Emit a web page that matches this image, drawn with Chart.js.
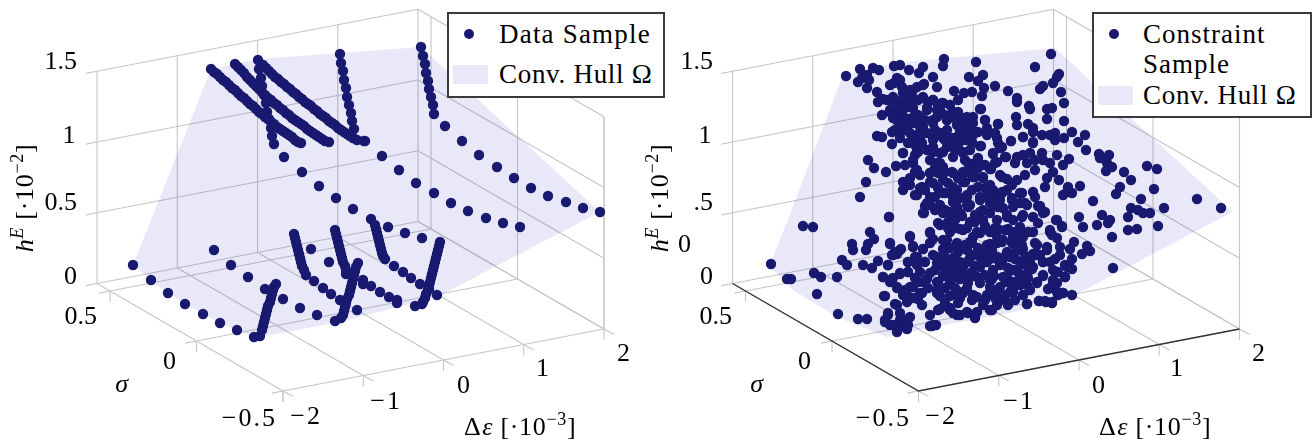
<!DOCTYPE html>
<html><head><meta charset="utf-8">
<script src="https://cdn.jsdelivr.net/npm/chart.js@4"></script>
<style>
html,body{margin:0;padding:0;background:#fff}
#stage{position:relative;width:1314px;height:444px;overflow:hidden;font-family:"Liberation Serif",serif;color:#000}
canvas{position:absolute;top:0}
.t{position:absolute;white-space:nowrap;line-height:1;font-size:26px}
.i{font-style:italic}
.s{font-size:18px;position:relative;top:-10px}
.box{position:absolute;background:#fff;border:2px solid #3a3a3a;box-sizing:border-box}
.lt{position:absolute;white-space:nowrap;line-height:1;font-size:27px;letter-spacing:1px}
.dot{position:absolute;width:10px;height:10px;border-radius:50%;background:#191970}
.sw{position:absolute;background:#e8e8f9}
</style></head><body>
<div id="stage">
<canvas id="left" width="657" height="444" style="left:0;width:657px;height:444px"></canvas>
<canvas id="right" width="657" height="444" style="left:657px;width:657px;height:444px"></canvas>
</div>
<script>
// Axis ticks
const deltaEpsTicks=[-2,-1,0,1,2];
const sigmaTicks=[0.5,0,-0.5];
const heTicks=[0,0.5,1,1.5];
const heTickLabelsLeft=["0","0.5","1","1.5"];
const heTickLabelsRight=["0",".5","1","1.5"];
const seriesNames=["Data Sample","Conv. Hull Ω"];
const seriesNamesRight=["Constraint","Sample","Conv. Hull Ω"];

// Samples, in view coordinates of the projected plot
const dataSample=[
[133,265],[151,280],[168,293],[185,304],[203,314],[220,323],[237,330],[254,337],
[260,336],[262,330],[263,326],[264,322],[265,318],[266,314],[267,310],[268,306],[270,302],[271,298],[272,294],[273,290],[274,287],[276,284],
[214,250],[231,265],[248,277],[265,289],[283,299],[300,308],[317,315],
[294,234],[295,238],[296,242],[297,246],[298,250],[299,254],[300,258],[301,262],[302,266],[304,270],[306,275],
[314,281],[323,288],[331,294],[340,300],[311,249],[329,262],[346,274],
[358,263],[356,267],[355,271],[354,275],[353,279],[352,283],[351,287],[350,291],[349,295],[347,299],[346,303],[345,307],[344,311],[343,315],[341,318],[335,321],[357,310],
[335,230],[336,234],[337,238],[338,242],[339,246],[340,250],[341,254],[342,258],[343,262],[345,266],[346,270],
[371,219],[375,225],[376,229],[377,233],[378,237],[379,241],[380,245],[381,249],[382,253],[383,256],[385,259],
[363,280],[363,284],[371,286],[380,292],[389,297],[397,300],[397,303],
[388,227],[405,233],[422,238],[394,266],[403,272],[411,278],[420,284],[429,289],[437,295],
[440,242],[439,246],[438,250],[437,254],[436,258],[435,262],[434,266],[433,270],[432,274],[431,278],[430,282],[429,286],[428,290],[426,294],[425,298],[423,302],[422,304],[415,306],
[340,54],[341,63],[343,71],[344,80],[346,88],[347,97],[349,105],[351,113],[352,121],[354,129],
[421,47],[423,56],[425,64],[426,73],[428,81],[429,89],[431,97],[433,105],[434,114],
[445,126],[462,141],[479,155],[497,167],[514,178],[531,188],[548,196],[566,202],[583,208],[600,212],
[364,141],[382,156],[399,170],[416,183],[434,193],[451,203],[468,211],[486,218],[503,223],[520,227],
[284,157],[302,172],[319,186],[336,198],[353,209],
[211,69],[214,72],[217,74],[220,77],[223,80],[226,82],[229,85],[232,88],[235,90],[238,93],[241,96],[244,98],[247,101],[250,104],[253,106],[256,109],[259,112],[262,114],[265,117],[268,119],[271,122],[274,124],[277,127],[280,129],[283,131],[286,133],[289,135],[292,137],[295,140],[298,142],[301,143],
[235,64],[238,67],[241,70],[244,73],[247,77],[250,80],[253,83],[256,86],[259,89],[262,92],[265,95],[268,98],[271,100],[274,103],[277,105],[280,108],[283,110],[286,113],[289,115],[292,118],[295,120],[298,122],[301,124],[304,126],[307,129],[310,131],[313,133],[316,135],[319,137],[322,139],[325,141],[329,142],
[263,65],[266,68],[269,71],[272,74],[275,77],[278,79],[281,82],[284,84],[287,87],[290,89],[293,92],[296,94],[299,97],[302,99],[305,102],[308,104],[311,106],[314,109],[317,111],[320,114],[323,116],[326,118],[329,121],[332,123],[335,125],[338,128],[341,130],[344,132],[347,134],[350,136],[353,138],[357,140],[365,141],
[258,60],[259,69],[261,78],[262,86],[264,95],[266,103],[267,112],[269,119],[271,128],[272,136],[274,144]
];
const dataHull=[[211,69],[258,59],[421,47],[600,212],[437,297],[340,322],[260,337],[254,337],[237,330],[220,323],[203,314],[185,304],[168,293],[151,280],[133,265],[211,69]];

const constraintSample=[
[846,76],[860,69],[858,82],[862,78],[867,75],[867,88],[873,68],[879,70],[877,92],[869,80],[894,66],[900,65],[909,70],[919,73],[923,67],[944,59],[943,66],[976,62],[969,77],[983,75],[978,81],[984,88],[995,86],[982,96],[972,92],[964,93],[958,100],[954,91],[937,87],[933,77],[924,84],[897,78],[890,85],[900,80],[894,83],[902,87],[910,90],[917,87],[907,93],[913,98],[923,97],[878,102],[883,99],[890,100],[903,100],[933,100],[943,103],[882,115],[890,112],[897,107],[903,110],[910,107],[918,115],[927,108],[937,110],[953,112],[963,118],[973,117],[981,109],[985,120],[998,124],[897,120],[905,118],[913,123],[923,127],[933,123],[947,120],[957,125],[970,123],[987,128],[978,132],[877,136],[882,137],[892,144],[892,132],[900,133],[910,133],[920,137],[933,137],[943,138],[957,137],[968,133],[975,132],[987,135],[995,133],[914,144],[922,143],[933,152],[947,147],[957,147],[972,142],[981,146],[998,143],[903,153],[915,155],[927,150],[940,153],[953,157],[963,152],[978,158],[993,153],[868,160],[874,168],[886,172],[896,166],[913,163],[937,163],[965,160],[972,164],[978,166],[995,163],[915,172],[930,173],[943,167],[953,173],[967,172],[983,177],[991,169],[903,182],[903,190],[866,182],[860,197],[889,217],[920,188],[915,195],[930,182],[943,180],[953,187],[965,182],[975,177],[985,188],[995,197],[927,203],[924,213],[935,197],[945,193],[953,197],[967,197],[980,197],[990,203],[945,210],[957,207],[970,205],[983,210],[998,207],
[1051,54],[1035,67],[1059,74],[1057,77],[1053,83],[1043,86],[1040,89],[1008,91],[1017,98],[1017,102],[1061,92],[1064,103],[1029,106],[1030,109],[1047,109],[1052,108],[1016,117],[1047,119],[1064,121],[1017,125],[1028,124],[1033,128],[1033,132],[1042,135],[1050,135],[1055,133],[1055,140],[1064,138],[1072,132],[1085,135],[1078,142],[1086,150],[1023,137],[1011,141],[1002,147],[1033,143],[1006,157],[1017,157],[1023,155],[1030,153],[1042,153],[1035,160],[1027,163],[1015,163],[1043,160],[1057,155],[1050,163],[1063,165],[1069,159],[1099,154],[1109,155],[1100,158],[1107,163],[1112,167],[1106,171],[1124,172],[1131,180],[1147,166],[1157,169],[1053,172],[1025,175],[1035,170],[1059,180],[1047,178],[1045,187],[1068,187],[1080,186],[1067,192],[1063,195],[1072,193],[1120,187],[1116,194],[1154,189],[1197,199],[1221,208],[1093,201],[1141,199],[1164,208],[1131,208],[1138,210],[1143,213],[1150,213],[1128,217],[1079,217],[1056,220],[1102,215],[1110,220],[1033,192],[1035,197],[1020,193],[1012,200],[1007,190],[1020,203],[1040,207],[1043,213],[1025,203],[1002,192],[1007,217],[1022,217],[1033,217],[1002,177],[1012,185],
[1113,268],[1112,237],[1083,227],[1097,225],[1108,223],[1128,230],[1137,229],[1158,226],[1050,232],[1062,227],[1057,238],[1082,254],[1090,251],[1087,246],[1074,242],[1070,249],[1072,259],[1065,265],[1072,269],[1058,272],[1065,277],[1053,282],[1048,289],[1072,295],[1063,293],[1058,295],[1052,302],[1045,301],[1039,301],[1027,304],[1008,304],[1023,295],[1037,282],[1043,275],[1032,269],[1043,262],[1055,259],[1037,245],[1047,247],[1060,247],[1033,254],[1023,264],[1015,259],[1018,242],[1033,232],[1008,229],[1020,230],[1015,270],[1007,277],[1020,277],[1027,285],[1010,292],[1005,300],[1000,294],[1002,262],[1007,252],[1002,242],[1013,237],[1023,249],[1017,285],[1030,260],
[771,264],[787,279],[791,279],[814,273],[821,277],[817,294],[803,226],[813,227],[870,232],[874,239],[868,244],[866,250],[852,244],[853,250],[842,260],[847,265],[863,265],[872,268],[878,261],[890,244],[888,265],[910,236],[901,249],[897,254],[893,255],[913,247],[915,257],[908,262],[923,249],[837,277],[885,296],[883,277],[892,279],[900,274],[908,272],[897,287],[890,282],[910,287],[903,295],[897,305],[907,302],[918,299],[922,293],[937,290],[940,309],[950,310],[957,315],[967,312],[975,317],[838,314],[858,319],[867,319],[885,320],[888,313],[890,325],[897,332],[907,329],[900,320],[908,319],[932,326],[936,325],[945,304],[927,279],[937,282],[918,282],[917,265],[933,255],[933,239],[930,232],[940,225],[950,232],[960,229],[977,232],[990,232],[998,229],[943,249],[957,245],[970,242],[990,244],[997,259],[947,265],[960,262],[973,255],[990,259],[960,279],[977,277],[992,279],[960,292],[973,295],[990,294],[998,302],[992,310],[983,305],
[887,100],[893,97],[903,93],[913,90],[923,85],[900,103],[910,100],[923,98],[933,100],[942,103],[890,110],[900,112],[913,108],[927,110],[940,110],[953,112],[967,117],[980,109],[897,120],[908,120],[920,117],[933,120],[947,120],[960,123],[973,123],[985,120],[998,124],[895,130],[907,130],[920,127],[935,130],[947,130],[960,130],[973,135],[987,133],[997,138],[913,138],[933,140],[945,140],[960,138],[972,143],[980,146],[1000,148],[993,154],[1011,141],[1023,137],[1033,142],[903,153],[917,150],[930,150],[943,152],[955,150],[963,153],[978,159],[968,163],[997,162],[1005,157],[913,160],[930,160],[940,163],[917,170],[930,173],[938,173],[952,172],[963,172],[978,168],[990,169],[1000,175],[1007,179],[910,178],[922,187],[933,183],[948,183],[963,182],[973,177],[983,178],[993,190],[1002,193],[1017,180],[1022,193],[1012,198],[917,195],[930,197],[943,193],[957,190],[967,195],[978,187],[987,197],[997,205],[925,206],[940,205],[953,202],[967,205],[980,200],[1013,207],[1027,205],[1038,206],
[889,217],[910,237],[890,243],[913,246],[895,252],[900,250],[892,255],[888,265],[923,249],[900,273],[908,272],[883,277],[893,278],[897,288],[884,296],[895,304],[900,313],[910,317],[888,315],[885,322],[893,325],[900,327],[908,325],[930,326],[933,325],[938,310],[945,303],[950,308],[953,313],[960,315],[968,313],[975,318],[977,312],[990,310],[997,305],[1008,305],[1027,304],[1039,301],[1046,302],[1052,303],[1023,295],[1013,292],[1000,295],[987,295],[972,300],[960,298],[957,295],[937,293],[920,293],[913,298],[907,295],[905,290],[913,287],[923,282],[938,282],[930,273],[920,272],[908,262],[917,257],[937,263],[937,257],[945,250],[930,243],[930,233],[938,223],[948,228],[943,213],[923,213],[930,205],[955,220],[960,213],[968,207],[980,212],[995,205],[1007,215],[1023,215],[1040,206],[1045,212],[1038,223],[1028,232],[1057,220],[1062,226],[1050,230],[1052,235],[1035,243],[1043,276],[1057,283],[1053,280],[1050,288],[1065,277],[1063,293],[1057,292],[1037,283],[1028,278],[1020,277],[1013,282],[1067,267],[1053,270],[1043,262],[1037,255],[1047,250],[1060,255],[1050,262],[1030,257],[1020,250],[1013,240],[1023,237],[1007,230],[997,237],[987,245],[973,237],[963,230],[980,233],[957,243],[943,240],[967,250],[953,258],[963,267],[943,267],[980,257],[997,257],[1010,257],[993,270],[980,267],[970,277],[957,272],[950,282],[967,288],[980,283],[990,280],[1003,277],[1000,287],[1013,270],[977,297],[963,293],[983,220],[997,220],[970,222],[950,213],[1013,220],[1020,227],[1033,267],[1040,255],
[948,222],[955,228],[967,228],[975,222],[985,226],[995,228],[1005,230],[1015,232],[947,240],[950,248],[965,245],[972,243],[978,248],[997,243],[1003,240],[1012,243],[1022,245],[945,258],[958,252],[970,258],[985,252],[992,250],[1003,258],[1015,252],[1025,256],[948,272],[955,265],[967,262],[975,266],[987,262],[1000,265],[1008,268],[1020,262],[1030,268],[943,276],[953,278],[965,275],[972,272],[985,275],[994,276],[1006,282],[1018,272],[1028,272],[945,288],[955,288],[968,283],[990,287],[998,290],[1010,283],[1020,285],[1030,290],[950,296],[958,303],[985,300],[995,298],[1005,295],[1015,300],[925,262],[935,270],[928,288],[940,296],[915,278],[922,305],[930,315],
[895,100],[905,105],[918,100],[928,102],[938,105],[950,105],[958,112],[893,118],[901,125],[912,118],[925,120],[937,117],[945,115],[955,118],[968,125],[900,138],[908,143],[917,135],[927,133],[940,133],[952,138],[965,140],[918,152],[933,147],[950,145],[958,145],[970,150],[905,165],[920,175],[935,168],[945,172],[958,178],[972,170],[985,165],[910,185],[925,190],[938,188],[950,193],[960,198],[972,190],[990,185],[1000,200],[935,210],[950,212],[962,216],[975,215],[990,213],[1003,208]
];
const constraintHull=[[843,75],[897,63],[1000,53],[1055,48],[1233,212],[1213,222],[1077,294],[1023,310],[1000,315],[923,329],[903,334],[887,337],[837,317],[793,290],[772,269],[771,262],[787,222],[843,75]];

// 3D axis projection onto the view plane
function projector(ox){
  return (e,s,h)=>({x:ox+283+(e+2)*80.25-(s+0.5)*173,y:391-(e+2)*15.5-(s+0.5)*100-h*141.5});
}
const SMAX=0.575, EMIN=-2, EMAX=2, SMIN=-0.5, HMAX=1.5;
const GRID='#c6c6c6';
function seg(pts,color,w){return {type:'scatter',data:pts,showLine:true,borderColor:color||GRID,borderWidth:w||1.1,pointRadius:0,fill:false,order:3,tension:0};}
function gridSets(ox,dark){
  const P=projector(ox),out=[];
  deltaEpsTicks.forEach(e=>{
    out.push(seg([P(e,SMAX,0),P(e,SMIN,0)]));
    out.push(seg([P(e,SMAX,0),P(e,SMAX,HMAX)]));
    const a=P(e,SMIN,0);
    out.push(seg([a,{x:a.x,y:a.y+11}]));
    out.push(seg([a,{x:a.x+10,y:a.y+5.6}]));
  });
  sigmaTicks.forEach(s=>{
    out.push(seg([P(EMIN,s,0),P(EMAX,s,0)]));
    out.push(seg([P(EMAX,s,0),P(EMAX,s,HMAX)]));
    const a=P(EMIN,s,0);
    out.push(seg([a,{x:a.x,y:a.y+11}]));
    out.push(seg([a,{x:a.x-11,y:a.y+2.1}]));
  });
  heTicks.forEach(h=>{
    out.push(seg([P(EMIN,SMAX,h),P(EMAX,SMAX,h)]));
    out.push(seg([P(EMAX,SMAX,h),P(EMAX,SMIN,h)]));
    const a=P(EMIN,SMAX,h);
    out.push(seg([a,{x:a.x-11,y:a.y+2.1}]));
  });
  out.push(seg([P(EMAX,SMIN,0),P(EMAX,SMIN,HMAX)]));
  if(dark){
    const k=seg([P(EMIN,SMAX,0),P(EMIN,SMIN,0),P(EMAX,SMIN,0)],'#333',1.3);k.order=2;out.push(k);
  }
  return out;
}
function makeChart(id,xmin,xmax,sample,hull,ox,dark){
  const toPts=a=>a.map(p=>({x:p[0],y:p[1]}));
  new Chart(document.getElementById(id),{
    type:'scatter',
    data:{datasets:[
      {data:toPts(sample),pointRadius:5.2,pointHoverRadius:5.2,pointBackgroundColor:'#191970',pointBorderWidth:0,showLine:false,order:0},
      {data:toPts(hull),showLine:true,pointRadius:0,borderWidth:0,borderColor:'rgba(0,0,0,0)',backgroundColor:'rgba(0,0,190,0.09)',fill:'shape',tension:0,order:1},
      ...gridSets(ox,dark)
    ]},
    options:{responsive:false,animation:false,events:[],
      layout:{padding:0,autoPadding:false},
      plugins:{legend:{display:false},tooltip:{enabled:false}},
      scales:{x:{type:'linear',min:xmin,max:xmax,display:false},y:{type:'linear',min:0,max:444,reverse:true,display:false}}
    }
  });
}
makeChart('left',0,657,dataSample,dataHull,0,false);
makeChart('right',657,1314,constraintSample,constraintHull,635.5,true);

// Text
const stage=document.getElementById('stage');
function tick(txt,right,cy,ital){
  const d=document.createElement('div');d.className='t';
  d.textContent=txt;
  d.style.right=(1314-right)+'px';
  d.style.top=(cy-13.5)+'px';
  if(txt.startsWith('\u2212'))d.style.letterSpacing='2px';
  if(ital)d.style.fontStyle='italic';
  stage.appendChild(d);
}
const heCy=[276,202,135,61];
[[77,heTickLabelsLeft],[713,heTickLabelsRight]].forEach(([r,l])=>l.forEach((t,i)=>tick(t,r-(t==='1'?1.5:0),heCy[i])));
tick("0",691,244);
const sigCy=[316,361,418],sigL=[97,176,277],sigR=[732,811,911];
sigmaTicks.forEach((v,i)=>{const t=String(v).replace('-','\u2212');tick(t,sigL[i],sigCy[i]);tick(t,sigR[i],sigCy[i]);});
const eCy=[416,401,385,368,353],eL=[322,402,470,549,630],eR=[957,1035,1105,1183,1265];
deltaEpsTicks.forEach((v,i)=>{const t=String(v).replace('-','\u2212');tick(t,eL[i],eCy[i]);tick(t,eR[i],eCy[i]);});
tick("σ",128,384,true);tick("σ",763,384,true);

function html(cls,h,css){const d=document.createElement('div');d.className=cls;d.innerHTML=h;Object.assign(d.style,css);stage.appendChild(d);return d;}
const xLabel='<span style="letter-spacing:1.5px">Δ</span><span class="i">ε</span> [·10<span class="s">−3</span>]';
html('t',xLabel,{left:'464px',top:'414px',letterSpacing:'0.7px'});
html('t',xLabel,{left:'1099px',top:'414px',letterSpacing:'0.7px'});
const yLabel='<span class="i">h</span><span class="s i">E</span> [·10<span class="s">−2</span>]';
[[25,198],[660,198]].forEach(([x,y])=>html('t',yLabel,{left:x+'px',top:y+'px',letterSpacing:'0.7px',transform:'translate(-50%,-50%) rotate(-90deg)'}));

// Legends
html('box','',{left:'447px',top:'12px',width:'218px',height:'86px'});
html('dot','',{left:'464px',top:'29px'});
html('sw','',{left:'453px',top:'65px',width:'35px',height:'19px'});
html('lt',seriesNames[0],{left:'499px',top:'21px',letterSpacing:'1.2px'});
html('lt',seriesNames[1],{left:'499px',top:'61px',letterSpacing:'0.7px'});
html('box','',{left:'1092px',top:'12px',width:'220px',height:'106px'});
html('dot','',{left:'1109px',top:'29px'});
html('sw','',{left:'1098px',top:'86px',width:'35px',height:'19px'});
html('lt',seriesNamesRight[0],{left:'1143px',top:'21px'});
html('lt',seriesNamesRight[1],{left:'1143px',top:'51px'});
html('lt',seriesNamesRight[2],{left:'1143px',top:'82px',letterSpacing:'0.7px'});
</script>
</body></html>
